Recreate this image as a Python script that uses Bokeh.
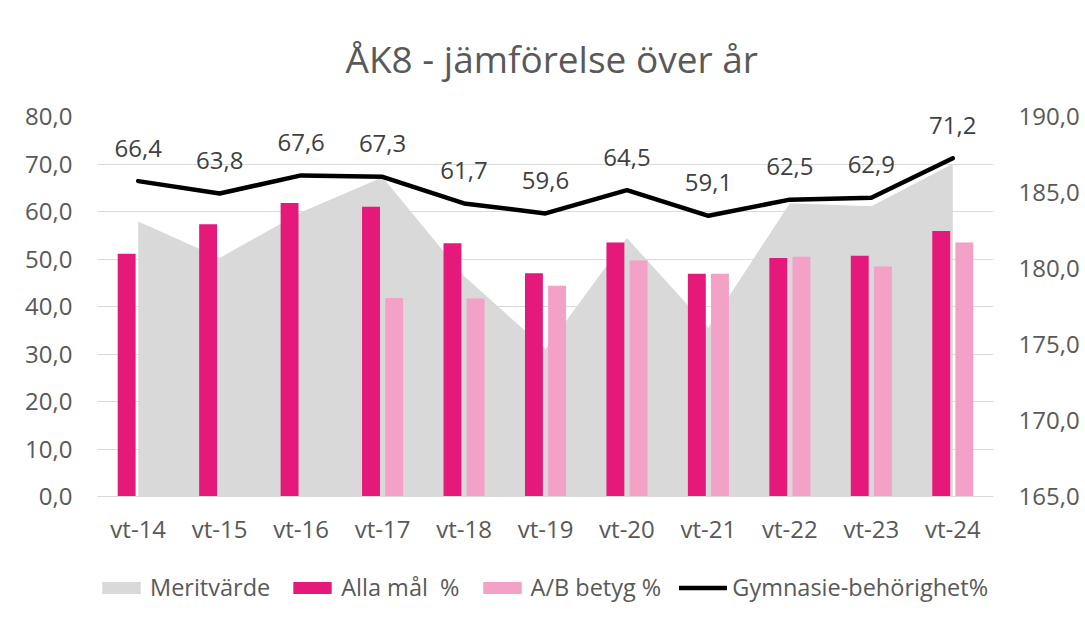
from bokeh.plotting import figure
from bokeh.models import (ColumnDataSource, FactorRange, Range1d, LinearAxis, Legend, LegendItem,
                          LabelSet, FixedTicker, CustomJSTickFormatter)
from bokeh.transform import dodge
from bokeh.core.properties import value
from bokeh.embed import file_html
from bokeh.resources import INLINE

categories = ["vt-14", "vt-15", "vt-16", "vt-17", "vt-18", "vt-19", "vt-20", "vt-21", "vt-22", "vt-23", "vt-24"]
meritvarde = [183.1, 180.7, 183.7, 186.0, 179.5, 174.7, 182.0, 176.1, 184.3, 184.1, 186.9]
alla_mal = [51.1, 57.3, 61.8, 61.0, 53.3, 47.0, 53.5, 46.9, 50.2, 50.7, 55.9]
ab_betyg = [None, None, None, 41.8, 41.7, 44.4, 49.7, 46.9, 50.5, 48.4, 53.5]
gymnasie = [66.4, 63.8, 67.6, 67.3, 61.7, 59.6, 64.5, 59.1, 62.5, 62.9, 71.2]
left_ticks = [0, 10, 20, 30, 40, 50, 60, 70, 80]
right_ticks = [165, 170, 175, 180, 185, 190]

TEXT = "#595959"
FONT = "Open Sans"

src = ColumnDataSource(dict(
    cat=categories, merit=meritvarde, alla=alla_mal, gym=gymnasie,
    lab=[f"{v:.1f}".replace(".", ",") for v in gymnasie],
))
ab_cats = [c for c, v in zip(categories, ab_betyg) if v is not None]
ab_vals = [v for v in ab_betyg if v is not None]
src_ab = ColumnDataSource(dict(cat=ab_cats, ab=ab_vals))

# frame extends below the zero line to host the legend (same px/unit on both axes)
below = 26.3
ratio = (right_ticks[-1] - right_ticks[0]) / (left_ticks[-1] - left_ticks[0])

p = figure(x_range=FactorRange(*categories, range_padding=0),
           y_range=Range1d(-below, left_ticks[-1]),
           frame_width=896, frame_height=505,
           min_border_left=97, min_border_right=92, min_border_top=116, min_border_bottom=0,
           output_backend="svg", toolbar_location=None,
           background_fill_color="white", border_fill_color="white", outline_line_color=None)
p.extra_y_ranges = {"right": Range1d(right_ticks[0] - below * ratio, right_ticks[-1])}

area = p.varea(x="cat", y1=right_ticks[0], y2="merit", source=src, y_range_name="right",
               fill_color="#D9D9D9")
b1 = p.vbar(x=dodge("cat", -0.142, range=p.x_range), top="alla", width=0.22, source=src,
            fill_color="#E4197A", line_color=None)
b2 = p.vbar(x=dodge("cat", 0.142, range=p.x_range), top="ab", width=0.22, source=src_ab,
            fill_color="#F4A1C8", line_color=None)
ln = p.line(x="cat", y="gym", source=src, line_color="black", line_width=4.5,
            line_join="round", line_cap="round")

labels = LabelSet(x="cat", y="gym", text="lab", source=src, y_offset=33,
                  text_align="center", text_baseline="middle",
                  text_font=value(FONT), text_font_size="24px", text_color="#404040")
p.add_layout(labels)

fmt = CustomJSTickFormatter(code="return tick.toFixed(1).replace('.', ',');")

yl = p.yaxis[0]
yl.ticker = FixedTicker(ticks=left_ticks)
yl.formatter = fmt
yr = LinearAxis(y_range_name="right", ticker=FixedTicker(ticks=right_ticks), formatter=fmt)
p.add_layout(yr, "right")

for ax in (yl, yr):
    ax.axis_line_color = None
    ax.major_tick_line_color = None
    ax.minor_tick_line_color = None
    ax.major_tick_out = 0
    ax.major_label_text_font = FONT
    ax.major_label_text_font_size = "24px"
    ax.major_label_text_color = TEXT
yl.major_label_standoff = 25
yr.major_label_standoff = 25

xa = p.xaxis[0]
xa.fixed_location = 0
xa.axis_line_color = "#D9D9D9"
xa.major_tick_line_color = None
xa.major_tick_out = 0
xa.major_label_standoff = 15
xa.major_label_text_font = FONT
xa.major_label_text_font_size = "24px"
xa.major_label_text_color = TEXT

p.xgrid.visible = False
p.ygrid.grid_line_color = "#D9D9D9"
p.ygrid.grid_line_width = 1

p.title.text = "ÅK8 - jämförelse över år"
p.title.align = "left"
p.title.offset = 248
p.title.vertical_align = "top"
p.title.text_font = FONT
p.title.text_font_size = "37px"
p.title.text_font_style = "normal"
p.title.text_color = TEXT
p.title.standoff = 62

legend = Legend(items=[
    LegendItem(label="Meritvärde", renderers=[area]),
    LegendItem(label="Alla mål  %", renderers=[b1]),
    LegendItem(label="A/B betyg %", renderers=[b2]),
    LegendItem(label="Gymnasie-behörighet%", renderers=[ln]),
], orientation="horizontal", location=(0, 18), glyph_width=48, glyph_height=15,
    label_standoff=5, spacing=18, padding=0, margin=0, border_line_color=None,
    background_fill_alpha=0, label_text_font=FONT, label_text_font_size="23.5px",
    label_text_color=TEXT)
p.add_layout(legend)

open("out.html", "w").write(file_html(p, INLINE))
